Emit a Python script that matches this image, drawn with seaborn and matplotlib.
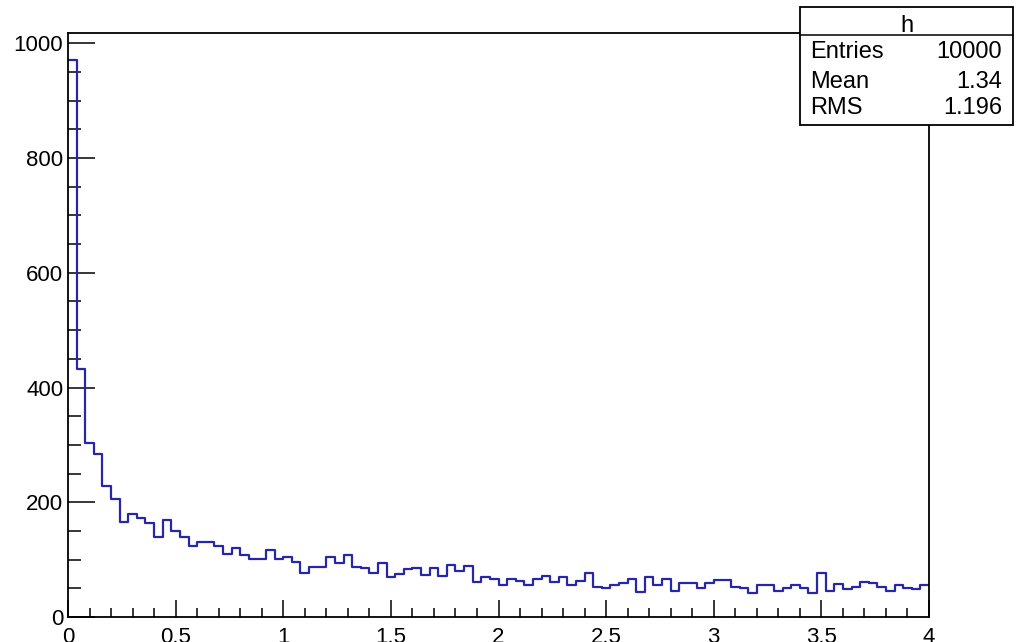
import numpy as np
import matplotlib
matplotlib.use("Agg")
import matplotlib.pyplot as plt
from matplotlib.patches import Rectangle
from matplotlib.lines import Line2D
from matplotlib.ticker import MultipleLocator
import seaborn as sns

# Histogram "h": 100 bins on [0, 4]
x_min, x_max, n_bins = 0.0, 4.0, 100
counts = [
    971, 432, 303, 284, 229, 206, 166, 180, 172, 163,
    139, 169, 150, 139, 124, 131, 131, 124, 110, 120,
    108, 101, 101, 117, 101, 104, 96, 77, 88, 88,
    104, 94, 108, 88, 86, 77, 94, 69, 75, 83,
    86, 74, 86, 72, 90, 81, 89, 61, 69, 67,
    55, 67, 62, 55, 67, 72, 61, 69, 55, 62,
    77, 53, 50, 55, 59, 67, 44, 70, 55, 66,
    45, 59, 60, 50, 59, 65, 65, 53, 51, 42,
    55, 56, 45, 50, 55, 51, 42, 77, 45, 58,
    48, 53, 61, 59, 53, 45, 55, 50, 49, 55,
]
stat_labels = ["Entries", "Mean", "RMS"]
stat_values = ["10000", "1.34", "1.196"]
hist_name = "h"

sns.set_style("white")
plt.rcParams["font.family"] = ["Liberation Sans", "DejaVu Sans"]
plt.rcParams["text.color"] = "black"

W, H = 1019, 642
fig = plt.figure(figsize=(W / 100, H / 100), dpi=100)
ax = fig.add_axes([68 / W, 1 - 617 / H, (929 - 68) / W, (617 - 33) / H])

width = (x_max - x_min) / n_bins
centers = x_min + width * (np.arange(n_bins) + 0.5)

sns.histplot(x=centers, weights=counts, bins=n_bins, binrange=(x_min, x_max),
             element="step", fill=False, color="#2626a8", linewidth=1.6, ax=ax)

ax.set_xlim(x_min, x_max)
ax.set_ylim(0, 1018)
ax.set_xlabel("")
ax.set_ylabel("")

ax.xaxis.set_major_locator(MultipleLocator(0.5))
ax.xaxis.set_minor_locator(MultipleLocator(0.1))
ax.yaxis.set_major_locator(MultipleLocator(200))
ax.yaxis.set_minor_locator(MultipleLocator(50))
ax.set_xticks(np.arange(0, 4.01, 0.5))
ax.set_xticklabels(["0", "0.5", "1", "1.5", "2", "2.5", "3", "3.5", "4"])

for s in ax.spines.values():
    s.set_visible(True)
    s.set_color("black")
    s.set_linewidth(1.3)

ax.tick_params(axis="both", which="both", direction="in", color="black",
               labelcolor="black", width=1.1, bottom=True, left=True,
               top=False, right=False, labelsize=16)
ax.tick_params(axis="x", which="major", length=12.2, pad=7)
ax.tick_params(axis="x", which="minor", length=6.5)
ax.tick_params(axis="y", which="major", length=19.4, pad=3.5)
ax.tick_params(axis="y", which="minor", length=9.4)

# Statistics box
bx0, bx1 = 800 / W, 1013 / W
by0, by1 = 1 - 125 / H, 1 - 7 / H
bdiv = 1 - 35 / H
fig.patches.append(Rectangle((bx0, by0), bx1 - bx0, by1 - by0, transform=fig.transFigure,
                             facecolor="white", edgecolor="black", linewidth=1.3, zorder=10))
fig.lines.append(Line2D([bx0, bx1], [bdiv, bdiv], transform=fig.transFigure,
                        color="black", linewidth=1.1, zorder=11))
fig.text((bx0 + bx1) / 2, 1 - 26 / H, hist_name, ha="center", va="center",
         fontsize=17, color="black", zorder=12)
row_y = [52, 81.5, 108.5]
for lab, val, ry in zip(stat_labels, stat_values, row_y):
    fig.text(810 / W, 1 - ry / H, lab, ha="left", va="center", fontsize=17,
             color="black", zorder=12)
    fig.text(1002 / W, 1 - ry / H, val, ha="right", va="center", fontsize=17,
             color="black", zorder=12)

fig.savefig("out.png", dpi=100)
